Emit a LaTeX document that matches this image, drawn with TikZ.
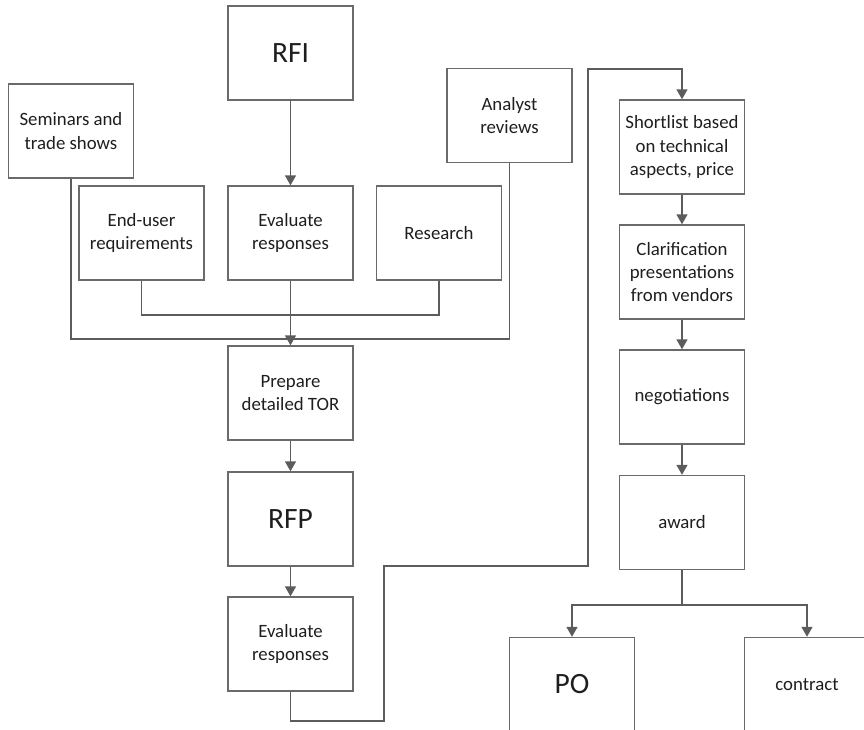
\documentclass[tikz,border=0pt]{standalone}
\usepackage{fontspec}
\setmainfont{Carlito}
\usetikzlibrary{arrows.meta}
\definecolor{boxline}{HTML}{6A6A6A}
\definecolor{conline}{HTML}{5C5C5C}
\definecolor{txt}{HTML}{1E1E1E}
\begin{document}
\begin{tikzpicture}[x=1pt,y=-1pt,
  box/.style={draw=boxline,line width=1.4pt,minimum width=125pt,minimum height=94pt,
    inner sep=0pt,align=center,text=txt,font=\fontsize{18.8}{23.2}\selectfont},
  bigbox/.style={box,font=\fontsize{29.5}{34}\selectfont},
  con/.style={draw=conline,line width=1.5pt},
  arr/.style={con,-{Triangle[width=11pt,length=10pt]}}]
\useasboundingbox (0,0) rectangle (864,729);

% left-hand column and its inputs
\node[bigbox] (rfi)   at (290.5,53)  {RFI};
\node[box]    (sem)   at (71,131)    {Seminars and\\trade shows};
\node[box]    (enduser) at (141.5,233) {End-user\\requirements};
\node[box]    (eval1) at (290.5,233) {Evaluate\\responses};
\node[box]    (res)   at (439,233)   {Research};
\node[box]    (ana)   at (509.5,115.5) {Analyst\\reviews};
\node[box]    (prep)  at (290.5,393) {Prepare\\detailed TOR};
\node[bigbox] (rfp)   at (290.5,519) {RFP};
\node[box]    (eval2) at (290.5,644) {Evaluate\\responses};

% right-hand column
\node[box]    (short) at (682,147)   {Shortlist based\\on technical\\aspects, price};
\node[box]    (clar)  at (682,272)   {Clarification\\presentations\\from vendors};
\node[box]    (neg)   at (682,397)   {negotiations};
\node[box]    (award) at (682,522.5) {award};
\node[bigbox] (po)    at (572,684.5) {PO};
\node[box]    (contract) at (807,684.5) {contract};

% junction points of the merging lines
\coordinate (j1) at (290.5,315);
\coordinate (j2) at (290.5,339);
\coordinate (l1) at (384,721);
\coordinate (l2) at (588,566);
\coordinate (l3) at (588,69);
\coordinate (split) at (682,605);

\draw[arr] (rfi) -- (eval1);
\draw[con] (enduser.south) |- (j1);
\draw[con] (res.south) |- (j1);
\draw[con] (sem.south) |- (j2);
\draw[con] (ana.south) |- (j2);
\draw[arr] (eval1) -- (prep);
\draw[arr] (prep) -- (rfp);
\draw[arr] (rfp) -- (eval2);

% loop over to the shortlist
\draw[arr] (eval2.south) |- (l1) |- (l2) |- (l3) -| (short.north);

\draw[arr] (short) -- (clar);
\draw[arr] (clar) -- (neg);
\draw[arr] (neg) -- (award);
\draw[con] (award.south) -- (split);
\draw[arr] (split) -| (po.north);
\draw[arr] (split) -| (contract.north);
\end{tikzpicture}
\end{document}
